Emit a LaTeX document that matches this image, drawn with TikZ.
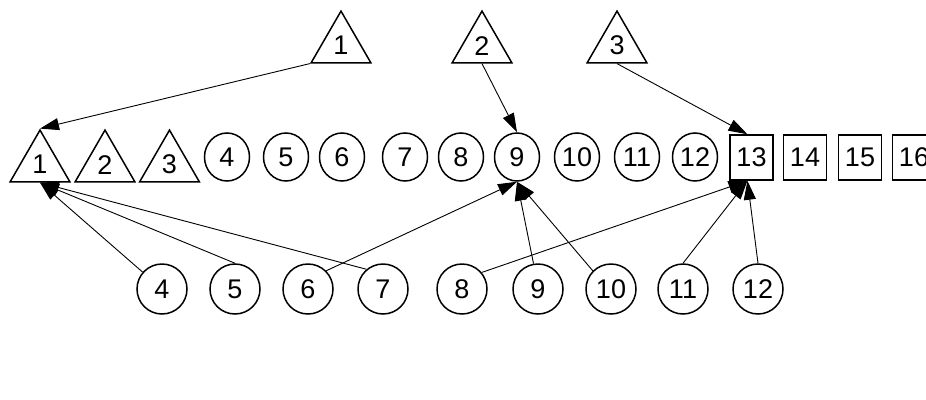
\documentclass[tikz,border=0pt]{standalone}
\usepackage{fontspec}
\setmainfont{Liberation Sans}
\usetikzlibrary{shapes.geometric,arrows.meta}
\newcommand{\trilabel}[1]{\raisebox{-3pt}{#1}}
\begin{document}
\begin{tikzpicture}[x=1pt,y=-1pt,
  every node/.style={font=\fontsize{27}{27}\selectfont, inner sep=0pt},
  tri/.style={draw, line width=1.5pt, regular polygon, regular polygon sides=3, minimum size=69pt},
  ring/.style={draw, line width=1.5pt, ellipse, minimum width=45pt, minimum height=48pt},
  bring/.style={draw, line width=1.5pt, circle, minimum size=50pt},
  box/.style={draw, line width=1.5pt, rectangle, minimum width=43pt, minimum height=45pt},
  link/.style={line width=0.9pt, -{Triangle[length=19pt,width=12pt]}}
]
\useasboundingbox (0,0) rectangle (926,399);

% upper triangles
\node[tri] (p1) at (341,45.6) {\trilabel{1}};
\node[tri] (p2) at (482,45.6) {\trilabel{2}};
\node[tri] (p3) at (617,45.6) {\trilabel{3}};

% middle row
\node[tri] (a1) at (40,164.6) {\trilabel{1}};
\node[tri] (a2) at (105,164.6) {\trilabel{2}};
\node[tri] (a3) at (169.5,164.6) {\trilabel{3}};
\node[ring] (c4) at (227,157) {4};
\node[ring] (c5) at (286,157) {5};
\node[ring] (c6) at (342,157) {6};
\node[ring] (c7) at (405,157) {7};
\node[ring] (c8) at (461,157) {8};
\node[ring] (c9) at (517,157) {9};
\node[ring] (c10) at (577,157) {10};
\node[ring] (c11) at (637,157) {11};
\node[ring] (c12) at (695,157) {12};
\node[box] (s13) at (751.5,157.5) {13};
\node[box] (s14) at (805,157.5) {14};
\node[box] (s15) at (860,157.5) {15};
\node[box] (s16) at (914,157.5) {16};

% lower row
\node[bring] (b4) at (162,289) {4};
\node[bring] (b5) at (235,289) {5};
\node[bring] (b6) at (308,289) {6};
\node[bring] (b7) at (383,289) {7};
\node[bring] (b8) at (462,289) {8};
\node[bring] (b9) at (538,289) {9};
\node[bring] (b10) at (611,289) {10};
\node[bring] (b11) at (683,289) {11};
\node[bring] (b12) at (758,289) {12};

% connectors from the upper triangles
\draw[link] (p1.corner 2) -- (a1.corner 1);
\draw[link] (p2.side 2) -- (c9.north);
\draw[link] (p3.side 2) -- (s13.100);

% connectors from the lower row
\draw[link] (b4) -- (a1.side 2);
\draw[link] (b5.north) -- (a1.side 2);
\draw[link] (b7.130) -- (a1.side 2);
\draw[link] (b6.45) -- (c9.south);
\draw[link] (b9.100) -- (c9.south);
\draw[link] (b10.135) -- (c9.south);
\draw[link] (b8.40) -- (s13.-100);
\draw[link] (b11.north) -- (s13.-100);
\draw[link] (b12.north) -- (s13.-100);
\end{tikzpicture}
\end{document}
